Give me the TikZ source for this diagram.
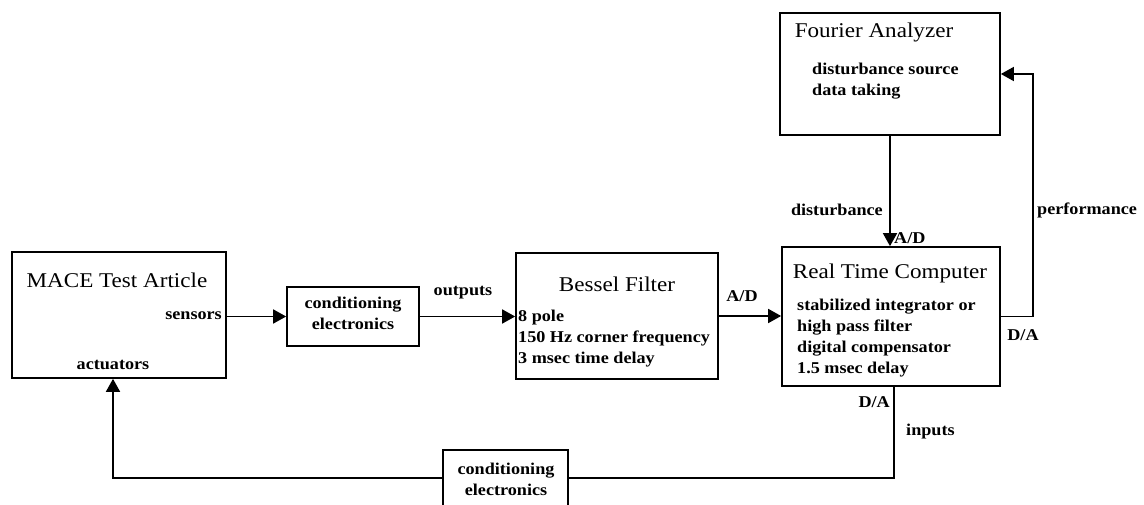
\documentclass[tikz,border=0pt]{standalone}
\usepackage{fontspec}
\setmainfont[FakeStretch=1.1]{Liberation Serif}
\usetikzlibrary{arrows.meta}
\tikzset{
  box/.style={draw, line width=1.7pt, inner sep=0pt},
  ttl/.style={font=\fontsize{21}{24}\selectfont, inner sep=0pt},
  lbl/.style={font=\bfseries\fontsize{16.5}{21}\selectfont, inner sep=0pt, align=left},
  clbl/.style={font=\bfseries\fontsize{16.5}{21}\selectfont, inner sep=0pt, align=center},
  wire/.style={line width=1.7pt},
  arr/.style={wire, -{Triangle[length=13pt,width=14pt]}},
}
\begin{document}
\begin{tikzpicture}[x=1pt,y=-1pt]
\clip (0,0) rectangle (1144,505);
% boxes
\node[box, minimum width=214pt, minimum height=126pt] (mace) at (119,315) {};
\node[box, minimum width=132pt, minimum height=59pt] (cond1) at (353,316.5) {};
\node[box, minimum width=202pt, minimum height=126pt] (bessel) at (617,316) {};
\node[box, minimum width=218pt, minimum height=139pt] (rtc) at (891,316.5) {};
\node[box, minimum width=220pt, minimum height=122pt] (fourier) at (890,74) {};
\node[box, minimum width=125pt, minimum height=80pt] (cond2) at (505.5,490) {};
% texts
\node[ttl] (maceT) at (117,280) {MACE Test Article};
\node[lbl, anchor=east] (sens) at (222,316) {sensors};
\node[lbl] (act) at (113,365) {actuators};
\node[clbl] (cond1T) at (353,313) {conditioning\\electronics};
\node[lbl] (outp) at (463,293) {outputs};
\node[ttl] (besT) at (617,284) {Bessel Filter};
\node[lbl, anchor=north west] (besL) at (518,310) {8 pole\\150 Hz corner frequency\\3 msec time delay};
\node[lbl] (ad1) at (742,296) {A/D};
\node[ttl] (rtcT) at (890,273) {Real Time Computer};
\node[lbl, anchor=north west] (rtcL) at (797,299) {stabilized integrator or\\high pass filter\\digital compensator\\1.5 msec delay};
\node[lbl] (da1) at (1023,335) {D/A};
\node[lbl, anchor=east] (da2) at (890,402) {D/A};
\node[lbl, anchor=west] (inp) at (906,432) {inputs};
\node[ttl] (fouT) at (874,32) {Fourier Analyzer};
\node[lbl, anchor=north west] (fouL) at (812,63) {disturbance source\\data taking};
\node[lbl, anchor=east] (dist) at (883,210) {disturbance};
\node[lbl, anchor=west] (ad2) at (894,238) {A/D};
\node[lbl, anchor=west] (perf) at (1037,210) {performance};
\node[clbl] (cond2T) at (506,479) {conditioning\\electronics};
% helper coordinates
\coordinate (bot) at (0,478);
\coordinate (inx) at (894,0);
\coordinate (ax) at (113,0);
\coordinate (px) at (1033,0);
% connectors
\draw[arr] (mace.east |- cond1.west) -- (cond1.west);
\draw[arr] (cond1.east) -- (cond1.east -| bessel.west);
\draw[arr] (bessel.east) -- (bessel.east -| rtc.west);
\draw[arr] (fourier.south) -- (fourier.south |- rtc.north);
\draw[arr] (rtc.east) -- (rtc.east -| px) |- (fourier.east);
\draw[wire] (rtc.south -| inx) |- (cond2.east |- bot);
\draw[arr] (cond2.west |- bot) -| (mace.south -| ax);
\end{tikzpicture}
\end{document}
